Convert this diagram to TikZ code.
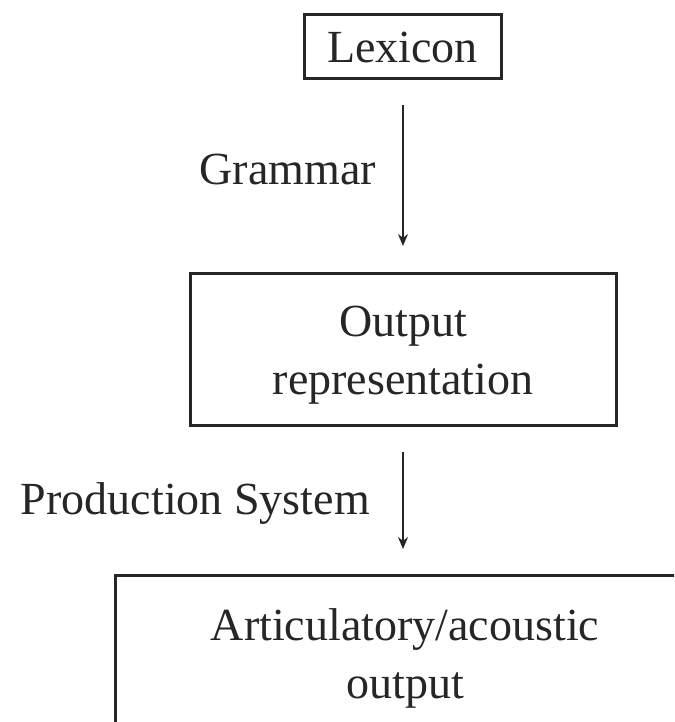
\documentclass[tikz,border=0pt]{standalone}
\usepackage{fontspec}
\setmainfont{Liberation Serif}
\usetikzlibrary{arrows.meta}
\begin{document}
\begin{tikzpicture}[x=1pt,y=-1pt,
  every node/.style={font=\fontsize{46}{58}\selectfont, text=black!85},
  box/.style={draw=black!85, line width=3pt, inner sep=0pt},
  flow/.style={draw=black!85, line width=2.6pt, -{Stealth[length=12pt,width=10pt]}},
  tag/.style={anchor=base east, inner sep=0pt}]
  \clip (0,0) rectangle (674,722);
  \fill[white] (0,0) rectangle (674,722);

  % boxes; text lines are placed by the baseline of their last line
  \node[box, minimum width=197pt, minimum height=64pt] (lex) at (402.5,47) {};
  \node[anchor=base] (lextext) at (402.5,63) {Lexicon};

  \node[box, minimum width=426pt, minimum height=152pt] (rep) at (403,349) {};
  \node[anchor=base, align=center] (reptext) at (403,394) {Output\\representation};

  \node[box, minimum width=590pt, minimum height=200pt] (art) at (410,675) {};
  \node[anchor=base, align=center] (arttext) at (405,698) {Articulatory/acoustic\\output};

  % connectors
  \coordinate (a1s) at (403,105);
  \coordinate (a1e) at (403,246);
  \coordinate (a2s) at (403,452);
  \coordinate (a2e) at (403,549);
  \draw[flow] (a1s) -- (a1e);
  \draw[flow] (a2s) -- (a2e);

  % labels
  \node[tag] (gram) at (376,184) {Grammar};
  \node[tag] (prod) at (370,514) {Production System};
\end{tikzpicture}
\end{document}
